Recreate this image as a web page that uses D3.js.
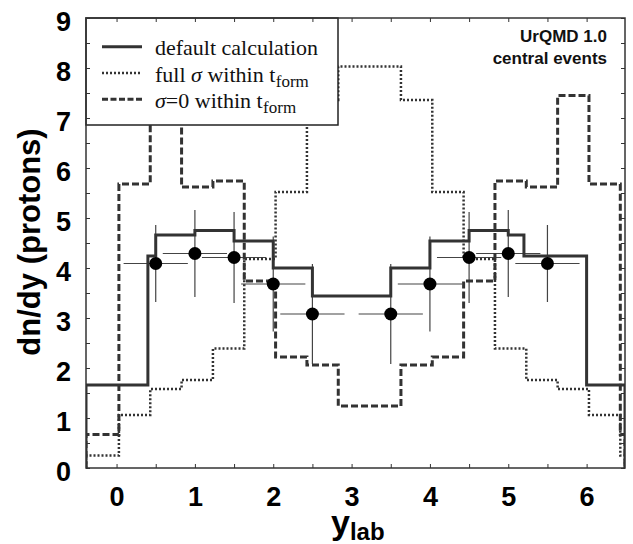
<!DOCTYPE html>
<html>
<head>
<meta charset="utf-8">
<script src="https://cdn.jsdelivr.net/npm/d3@7"></script>
<style>
  body { margin: 0; background: #fff; }
  svg { display: block; }
</style>
</head>
<body>
<script>
// Proton rapidity distribution, UrQMD 1.0 central events

// histogram: default calculation (bin edges + values)
const defaultEdges = [-0.39, 0.4, 0.5, 1.0, 1.5, 2.0, 2.5, 3.5, 4.0, 4.5, 5.0, 5.2, 6.0, 6.49];
const defaultVals  = [1.66, 4.24, 4.66, 4.75, 4.54, 4.0, 3.44, 4.0, 4.54, 4.75, 4.66, 4.24, 1.66];

// histogram: full sigma within t_form
const fullEdges = [-0.39, 0.03, 0.43, 0.83, 1.23, 1.63, 2.03, 2.43, 2.83, 3.63, 4.03, 4.43, 4.83, 5.23, 5.63, 6.03, 6.43, 6.49];
const fullVals  = [0.25, 1.06, 1.58, 1.76, 2.39, 4.18, 5.52, 7.36, 8.03, 7.36, 5.52, 4.18, 2.39, 1.76, 1.58, 1.06, 0.25];

// histogram: sigma = 0 within t_form
const zeroEdges = [-0.39, 0.03, 0.43, 0.83, 1.23, 1.63, 2.03, 2.43, 2.83, 3.63, 4.03, 4.43, 4.83, 5.23, 5.63, 6.03, 6.43, 6.49];
const zeroVals  = [0.67, 5.68, 7.45, 5.62, 5.74, 3.74, 2.22, 2.06, 1.24, 2.06, 2.22, 3.74, 5.74, 5.62, 7.45, 5.68, 0.67];

// measured points
const dataX    = [0.5, 1.0, 1.5, 2.0, 2.5, 3.5, 4.0, 4.5, 5.0, 5.5];
const dataY    = [4.09, 4.29, 4.21, 3.68, 3.08, 3.08, 3.68, 4.21, 4.29, 4.09];
const dataYErr = [0.77, 0.87, 0.91, 0.95, 1.0, 1.0, 0.95, 0.91, 0.87, 0.77];
const dataXErr = [0.41, 0.41, 0.41, 0.41, 0.41, 0.41, 0.41, 0.41, 0.41, 0.41];

const xTickLabels = [0, 1, 2, 3, 4, 5, 6];
const yTickLabels = [0, 1, 2, 3, 4, 5, 6, 7, 8, 9];

const width = 633, height = 544;
const margin = { top: 18, right: 8, bottom: 76, left: 86 };
const innerWidth = width - margin.left - margin.right;
const innerHeight = height - margin.top - margin.bottom;

const svg = d3.select("body").append("svg")
  .attr("width", width)
  .attr("height", height);

const x = d3.scaleLinear().domain([-0.39, 6.49]).range([margin.left, margin.left + innerWidth]);
const y = d3.scaleLinear().domain([0, 9]).range([margin.top + innerHeight, margin.top]);

svg.append("clipPath").attr("id", "plot")
  .append("rect")
  .attr("x", margin.left).attr("y", margin.top)
  .attr("width", innerWidth).attr("height", innerHeight);

const plot = svg.append("g").attr("clip-path", "url(#plot)");

// error bars
const errColor = "#444";
dataX.forEach((d, i) => {
  plot.append("line")
    .attr("x1", x(d)).attr("x2", x(d))
    .attr("y1", y(dataY[i] - dataYErr[i])).attr("y2", y(dataY[i] + dataYErr[i]))
    .attr("stroke", errColor).attr("stroke-width", 1.2);
  plot.append("line")
    .attr("x1", x(d - dataXErr[i])).attr("x2", x(d + dataXErr[i]))
    .attr("y1", y(dataY[i])).attr("y2", y(dataY[i]))
    .attr("stroke", errColor).attr("stroke-width", 1.2);
});

// step outline of a histogram
function stepPoints(edges, vals) {
  const pts = [[edges[0], 0]];
  vals.forEach((v, i) => {
    pts.push([edges[i], v]);
    pts.push([edges[i + 1], v]);
  });
  pts.push([edges[edges.length - 1], 0]);
  return pts;
}

const line = d3.line().x(d => x(d[0])).y(d => y(d[1]));
const histColor = "#333";

plot.append("path")
  .datum(stepPoints(fullEdges, fullVals))
  .attr("fill", "none").attr("stroke", histColor)
  .attr("stroke-width", 2.5).attr("stroke-dasharray", "2,2")
  .attr("d", line);

plot.append("path")
  .datum(stepPoints(zeroEdges, zeroVals))
  .attr("fill", "none").attr("stroke", histColor)
  .attr("stroke-width", 3).attr("stroke-dasharray", "7,3")
  .attr("d", line);

plot.append("path")
  .datum(stepPoints(defaultEdges, defaultVals))
  .attr("fill", "none").attr("stroke", histColor)
  .attr("stroke-width", 3)
  .attr("d", line);

// data points
plot.selectAll("circle")
  .data(dataX)
  .enter()
  .append("circle")
  .attr("cx", d => x(d))
  .attr("cy", (d, i) => y(dataY[i]))
  .attr("r", 6.5)
  .attr("fill", "#000");

// legend box
const legend = svg.append("g");
legend.append("rect")
  .attr("x", margin.left).attr("y", margin.top)
  .attr("width", 252).attr("height", 107)
  .attr("fill", "#fff").attr("stroke", "#222").attr("stroke-width", 1.5);

const legendRows = [
  { dash: null, w: 3, text: [["default calculation", null]], sub: null },
  { dash: "2,2", w: 2.5, text: [["full ", null], ["\u03c3", "it"], [" within t", null]], sub: "form" },
  { dash: "6,2.5", w: 3, text: [["\u03c3", "it"], ["=0 within t", null]], sub: "form" }
];
legendRows.forEach((r, i) => {
  const ly = 46.7 + i * 26.3;
  legend.append("line")
    .attr("x1", 102).attr("x2", 142)
    .attr("y1", ly).attr("y2", ly)
    .attr("stroke", histColor).attr("stroke-width", r.w)
    .attr("stroke-dasharray", r.dash);
  const t = legend.append("text")
    .attr("x", 155).attr("y", ly + 8.5)
    .attr("font-family", "Liberation Serif, Times New Roman, serif")
    .attr("font-size", 22)
    .attr("fill", "#111");
  r.text.forEach(p => {
    const s = t.append("tspan").text(p[0]);
    if (p[1] === "it") s.attr("font-style", "italic");
  });
  if (r.sub) {
    legend.append("text")
      .attr("x", 155 + t.node().getComputedTextLength() + 0.5)
      .attr("y", ly + 13.5)
      .attr("font-family", "Liberation Serif, Times New Roman, serif")
      .attr("font-size", 17)
      .attr("fill", "#111")
      .text(r.sub);
  }
});

// annotation
const note = svg.append("g")
  .attr("font-family", "Liberation Sans, Arial, sans-serif")
  .attr("font-weight", "bold")
  .attr("font-size", 17)
  .attr("fill", "#111")
  .attr("text-anchor", "end");
note.append("text").attr("x", 607).attr("y", 41.5).text("UrQMD 1.0");
note.append("text").attr("x", 607).attr("y", 63.5).text("central events");

// axes (ticks inside on all four sides)
const xTicks = d3.range(0, 6.01, 0.5);
const yTicks = d3.range(0, 9.01, 0.5);
const tickStyle = g => {
  g.select(".domain").remove();
  g.selectAll(".tick line").attr("stroke", "#333").attr("stroke-width", 1);
  g.selectAll(".tick text").filter(function () { return this.textContent === ""; }).remove();
};
const labelFont = g => g.selectAll(".tick text")
  .attr("font-family", "Liberation Sans, Arial, sans-serif")
  .attr("font-weight", "bold").attr("font-size", 27).attr("fill", "#000");

svg.append("g")
  .attr("transform", `translate(0,${margin.top + innerHeight})`)
  .call(d3.axisBottom(x).tickValues(xTicks).tickSize(-4).tickFormat(d => xTickLabels.includes(d) ? d : ""))
  .call(tickStyle)
  .call(labelFont)
  .call(g => g.selectAll(".tick text").attr("y", 38).attr("dy", null));

svg.append("g")
  .attr("transform", `translate(0,${margin.top})`)
  .call(d3.axisTop(x).tickValues(xTicks).tickSize(-4).tickFormat(""))
  .call(tickStyle);

svg.append("g")
  .attr("transform", `translate(${margin.left},0)`)
  .call(d3.axisLeft(y).tickValues(yTicks).tickSize(-4).tickFormat(d => yTickLabels.includes(d) ? d : ""))
  .call(tickStyle)
  .call(labelFont)
  .call(g => g.selectAll(".tick text").attr("x", -15).attr("dy", "0.36em").attr("y", 3));

svg.append("g")
  .attr("transform", `translate(${margin.left + innerWidth},0)`)
  .call(d3.axisRight(y).tickValues(yTicks).tickSize(-4).tickFormat(""))
  .call(tickStyle);

// frame
svg.append("rect")
  .attr("x", margin.left).attr("y", margin.top)
  .attr("width", innerWidth).attr("height", innerHeight)
  .attr("fill", "none").attr("stroke", "#333").attr("stroke-width", 1.5);

// axis titles
const yl = svg.append("text")
  .attr("x", 331).attr("y", 534)
  .attr("font-family", "Liberation Sans, Arial, sans-serif")
  .attr("font-weight", "bold").attr("font-size", 34).attr("fill", "#000")
  .text("y");
svg.append("text")
  .attr("x", 331 + yl.node().getComputedTextLength())
  .attr("y", 540)
  .attr("font-family", "Liberation Sans, Arial, sans-serif")
  .attr("font-weight", "bold").attr("font-size", 24).attr("fill", "#000")
  .text("lab");

svg.append("text")
  .attr("transform", "translate(40,242) rotate(-90)")
  .attr("text-anchor", "middle")
  .attr("font-family", "Liberation Sans, Arial, sans-serif")
  .attr("font-weight", "bold").attr("font-size", 31).attr("fill", "#000")
  .text("dn/dy (protons)");
</script>
</body>
</html>
